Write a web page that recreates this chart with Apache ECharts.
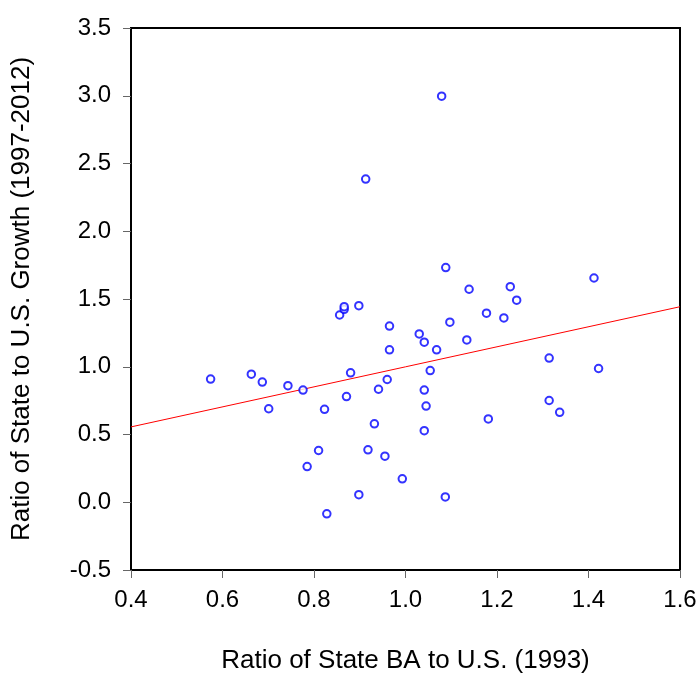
<!DOCTYPE html>
<html>
<head>
<meta charset="utf-8">
<script src="https://cdn.jsdelivr.net/npm/echarts@6/dist/echarts.min.js"></script>
<style>
  html, body { margin: 0; padding: 0; background: #fff; }
  #chart { width: 700px; height: 679px; }
</style>
</head>
<body>
<div id="chart"></div>
<script>
// 州数据：1993年学士比例 vs 1997-2012增长比例
const baRatio = [
  0.574, 0.663, 0.687, 0.743, 0.776, 0.701, 0.823, 0.856, 0.866, 0.866,
  0.898, 0.880, 0.871, 0.932, 0.941, 0.960, 0.965, 0.965, 1.030, 1.041,
  1.068, 1.054, 1.041, 1.045, 1.088, 1.139, 1.229, 1.412, 1.243, 1.097,
  1.177, 1.215, 1.134, 1.314, 1.422, 1.314, 1.337, 1.181, 1.041, 0.810,
  0.918, 0.955, 0.785, 0.993, 0.898, 1.087, 0.828, 1.079, 0.913
];
const growthRatio = [
  0.909, 0.945, 0.887, 0.860, 0.828, 0.690, 0.686, 1.382, 1.424, 1.443,
  1.451, 0.955, 0.780, 0.579, 0.834, 0.906, 1.300, 1.125, 1.242, 1.181,
  1.125, 0.972, 0.828, 0.710, 1.732, 1.572, 1.591, 1.655, 1.491, 1.329,
  1.395, 1.360, 1.198, 1.064, 0.987, 0.751, 0.664, 0.615, 0.528, 0.382,
  0.387, 0.340, 0.263, 0.173, 0.056, 0.039, -0.085, 2.997, 2.385
];
// 拟合线端点
const fitX = [0.4, 1.6];
const fitY = [0.556, 1.443];

const xTicks = { min: 0.4, max: 1.6, step: 0.2 };
const yTicks = { min: -0.5, max: 3.5, step: 0.5 };

const chart = echarts.init(document.getElementById('chart'));
const font = 'Liberation Sans, Arial, sans-serif';

chart.setOption({
  animation: false,
  grid: {
    left: 131, right: 20, top: 28, bottom: 104,
    show: true, borderColor: '#000', borderWidth: 2, backgroundColor: '#fff'
  },
  xAxis: {
    type: 'value',
    min: xTicks.min, max: xTicks.max, interval: xTicks.step,
    name: 'Ratio of State BA to U.S. (1993)',
    nameLocation: 'middle', nameGap: 78,
    nameTextStyle: { fontFamily: font, fontSize: 26, color: '#000' },
    axisLine: { show: true, onZero: false, lineStyle: { color: '#000', width: 2 } },
    axisTick: { show: true, inside: false, length: 8, lineStyle: { color: '#666', width: 1 } },
    axisLabel: {
      fontFamily: font, fontSize: 24, color: '#000', margin: 18,
      formatter: v => v.toFixed(1)
    },
    splitLine: { show: false }
  },
  yAxis: {
    type: 'value',
    min: yTicks.min, max: yTicks.max, interval: yTicks.step,
    name: 'Ratio of State to U.S. Growth (1997-2012)',
    nameLocation: 'middle', nameGap: 96,
    nameTextStyle: { fontFamily: font, fontSize: 26, color: '#000' },
    axisLine: { show: true, onZero: false, lineStyle: { color: '#000', width: 2 } },
    axisTick: { show: true, inside: false, length: 8, lineStyle: { color: '#666', width: 1 } },
    axisLabel: {
      fontFamily: font, fontSize: 24, color: '#000', margin: 20,
      formatter: v => v.toFixed(1)
    },
    splitLine: { show: false }
  },
  series: [
    {
      type: 'line',
      data: fitX.map((x, i) => [x, fitY[i]]),
      showSymbol: false,
      lineStyle: { color: '#ff0000', width: 1 },
      z: 1
    },
    {
      type: 'scatter',
      data: baRatio.map((x, i) => [x, growthRatio[i]]),
      symbol: 'emptyCircle',
      symbolSize: 7.5,
      itemStyle: { color: '#0000ff', borderWidth: 1.5 },
      z: 2
    }
  ]
});
</script>
</body>
</html>
